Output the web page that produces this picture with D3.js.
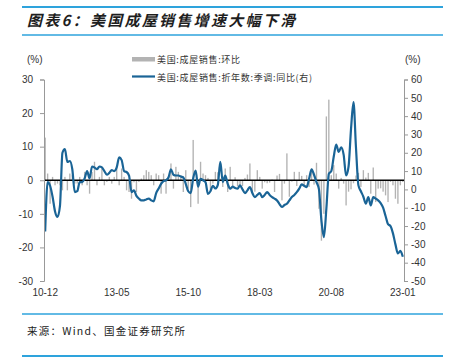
<!DOCTYPE html>
<html>
<head>
<meta charset="utf-8">
<script src="https://cdn.jsdelivr.net/npm/d3@7"></script>
<style>
  body { margin: 0; background: #fff; }
  text { font-family: "Liberation Sans", Arial, sans-serif; }
  .cjk { font-family: "Noto Sans CJK SC", sans-serif; }
</style>
</head>
<body>
<div id="chart"></div>
<script>
// monthly series, 2010-12 .. 2023-01
var startMonth = new Date(2010, 11, 1);
var endMonth = new Date(2023, 0, 1);
var months = d3.timeMonth.range(startMonth, d3.timeMonth.offset(endMonth, 1))
	.map(d3.timeFormat("%y-%m"));

// 美国:成屋销售:环比 (left axis, %)
var momValues = [
	12.7, 2, -7, 1, -1.5, -1, -1.5, -3, 1, -3, 2, 1.5,
	-1, -1, 1, -1.5, 2.5, -1.5, -4, 2.5, 5.5, -1.5, 1, 3.5,
	-1.5, -0.5, 1, -1, 1, 4, -1.5, 3.5, 1, -3, -3.5, -5.5,
	-0.6, -3.5, -0.5, 0.5, 1.5, 3, 2.5, 1.5, -1.5, 2, 1.5, -4,
	2, -4, 1.2, 5, -2.5, 4, 2.5, 1.5, -3.5, 3, -2.5, -8,
	12, 0.3, -7, 5.5, 2, 1.5, 0.7, -3, -1, 2.5, 2.4, 0.5,
	-2, 3.5, -3.5, 4, -2.5, 0.9, -1.8, -1.5, -1.7, 0.7, 1.7, 5,
	-4, -3.4, 3, 1, -2.5, -0.6, -0.9, -0.7, 0.2, -3.5, 1.4, 1.9,
	-6, -1, 8, -4.9, -0.4, 2.5, -1.7, 2.5, 1.3, -2, 1.5, -2,
	3.5, -1.3, 5.2, -8.5, -18, -10, 19, 24, 1.5, 4.5, 2, -2.5,
	0.7, -1, -7.5, -3.4, -2.7, -0.9, 1.4, 2.2, -2, 3, 0.8, 2.2,
	-4, 3.8, -6.5, -2.5, -2.4, -3.4, -4.5, -6.5, -0.5, -1.5, -5.5, -7,
	-1.5, -0.5
];

// 美国:成屋销售:折年数:季调:同比 (right axis, %)
var yoyValues = [
	-23, 4, 2, -4, -12, -15, -9, 20, 22, 15, 15.5, 11,
	-1.5, -1, 4, 4, 6, 10, 6, 12.5, 12, 11, 12.5, 12,
	10, 8, 9, 10.5, 10, 12, 17.5, 16, 10, 9.5, 7.5, -1.5,
	-0.5, -3.5, -5, -6, -6, -5.5, -5, -6, -6.5, -2, 0.5, 3,
	4.5, 5, 6.5, 11, 8, 7.6, 7.6, 7, 6.5, 3, -1, -2,
	6, 10.3, 1.5, 5.8, 5, 4, -2.5, -1, 2, 0.5, 2.5, 15,
	4, 7.6, 3, 0.4, 1.6, 0.8, 0.4, 2.2, 0, -2, -0.5, 1.3,
	-2, -4.2, -3, -2, -4.2, -3, -1.5, -3, -4.2, -5, -6, -8,
	-9.6, -8.5, -7.8, -6, -4.2, -3, -1.5, 0.4, 2.7, 2, 1.3, 5.8,
	11, 8, 4, 0, -17, -26, -10.5, 8.5, 10, 18, 24.5, 20.5,
	23, 19, 7.6, 12.5, 33, 47.6, 23, 2.2, -1, -4, -7.8, -4.2,
	-8.7, -4.2, -5, -6, -7.5, -10, -14.5, -19, -20, -24, -30, -35,
	-33.6, -36.8
];

var xTickLabels = ["10-12", "13-05", "15-10", "18-03", "20-08", "23-01"];
var leftTicks = [-30, -20, -10, 0, 10, 20, 30];
var rightTicks = [-50, -40, -30, -20, -10, 0, 10, 20, 30, 40, 50, 60];

var barName = "美国:成屋销售:环比";
var lineName = "美国:成屋销售:折年数:季调:同比(右)";
var titleText = "图表6：美国成屋销售增速大幅下滑";
var sourceText = "来源：Wind、国金证券研究所";

var data = months.map(function(m, i){
	return {month: m, mom: momValues[i], yoy: yoyValues[i]};
});

var W = 452, H = 360;
var plot = {left: 44, right: 404, top: 79.5, bottom: 281};
var blue = "#2ea3dc";

var svg = d3.select("#chart")
	.append("svg")
		.attr("width", W)
		.attr("height", H);

svg.append("rect").attr("width", W).attr("height", H).attr("fill", "#fff");

//header and footer rules
[{y: 7, w: 2}, {y: 35, w: 1.5}, {y: 314, w: 1.5}, {y: 356, w: 1.8}].forEach(function(r){
	svg.append("line")
		.attr("x1", 22).attr("x2", 443)
		.attr("y1", r.y).attr("y2", r.y)
		.attr("stroke", blue)
		.attr("stroke-width", r.w);
});

svg.append("text")
	.attr("class", "cjk")
	.attr("x", 27)
	.attr("y", 26)
	.attr("font-size", "15px")
	.attr("font-weight", "bold")
	.attr("font-style", "italic")
	.attr("fill", "#1e1e1e")
	.attr("textLength", 268)
	.attr("lengthAdjust", "spacing")
	.text(titleText);

svg.append("text")
	.attr("class", "cjk")
	.attr("x", 27)
	.attr("y", 335)
	.attr("font-size", "10.5px")
	.attr("fill", "#222")
	.attr("textLength", 158)
	.attr("lengthAdjust", "spacing")
	.text(sourceText);

//scales
var x = d3.scaleBand()
	.domain(months)
	.range([plot.left, plot.right])
	.paddingInner(0.45)
	.paddingOuter(0.2);

var yLeft = d3.scaleLinear()
	.domain([-30, 30])
	.range([plot.bottom, plot.top]);

var yRight = d3.scaleLinear()
	.domain([-50, 60])
	.range([plot.bottom, plot.top]);

var cx = function(d){ return x(d.month) + x.bandwidth() / 2; };

//bars
svg.append("g")
	.selectAll("rect")
	.data(data)
	.enter()
	.append("rect")
		.attr("x", function(d){ return x(d.month); })
		.attr("width", x.bandwidth())
		.attr("y", function(d){ return yLeft(Math.max(0, d.mom)); })
		.attr("height", function(d){ return Math.abs(yLeft(d.mom) - yLeft(0)); })
		.attr("fill", "#b3b3b3");

//zero line
svg.append("line")
	.attr("x1", plot.left).attr("x2", plot.right)
	.attr("y1", yLeft(0)).attr("y2", yLeft(0))
	.attr("stroke", "#000")
	.attr("stroke-width", 1.3);

//yoy line
var line = d3.line()
	.x(cx)
	.y(function(d){ return yRight(d.yoy); })
	.curve(d3.curveMonotoneX);

svg.append("path")
	.datum(data)
	.attr("d", line)
	.attr("fill", "none")
	.attr("stroke", "#1a6496")
	.attr("stroke-width", 2.2)
	.attr("stroke-linejoin", "round");

//axes
var plainNum = function(d){ return String(d); }; // hyphen minus, like the source

function styleAxis(g){
	g.select(".domain").attr("stroke", "#999");
	g.selectAll(".tick line").attr("stroke", "#999");
	g.selectAll(".tick text")
		.attr("fill", "#333")
		.attr("font-size", "10px")
		.attr("font-family", "'Liberation Sans', Arial, sans-serif");
}

svg.append("g")
	.attr("transform", "translate(" + plot.left + ",0)")
	.call(d3.axisLeft(yLeft).tickValues(leftTicks).tickFormat(plainNum)
		.tickSizeOuter(0).tickSize(4).tickPadding(7))
	.call(styleAxis);

svg.append("g")
	.attr("transform", "translate(" + plot.right + ",0)")
	.call(d3.axisRight(yRight).tickValues(rightTicks).tickFormat(plainNum)
		.tickSizeOuter(0).tickSize(4).tickPadding(3))
	.call(styleAxis);

var xAxis = svg.append("g")
	.attr("transform", "translate(0," + (plot.bottom + 2) + ")")
	.call(d3.axisBottom(x).tickValues(xTickLabels).tickSize(0).tickPadding(6))
	.call(styleAxis);
xAxis.select(".domain").remove();

//unit labels
svg.append("text").attr("x", 27).attr("y", 63).attr("font-size", "10px").attr("fill", "#333").text("(%)");
svg.append("text").attr("x", 405).attr("y", 63).attr("font-size", "10px").attr("fill", "#333").text("(%)");

//legend
var legend = svg.append("g");
legend.append("rect")
	.attr("x", 132).attr("y", 57)
	.attr("width", 23).attr("height", 4.5)
	.attr("fill", "#b3b3b3");
legend.append("text")
	.attr("class", "cjk")
	.attr("x", 157).attr("y", 62.5)
	.attr("font-size", "9px")
	.attr("fill", "#333")
	.attr("textLength", 83)
	.attr("lengthAdjust", "spacing")
	.text(barName);
legend.append("line")
	.attr("x1", 132).attr("x2", 155)
	.attr("y1", 76.5).attr("y2", 76.5)
	.attr("stroke", "#1a6496")
	.attr("stroke-width", 2.2);
legend.append("text")
	.attr("class", "cjk")
	.attr("x", 157).attr("y", 80.5)
	.attr("font-size", "9px")
	.attr("fill", "#333")
	.attr("textLength", 155)
	.attr("lengthAdjust", "spacing")
	.text(lineName);
</script>
</body>
</html>
